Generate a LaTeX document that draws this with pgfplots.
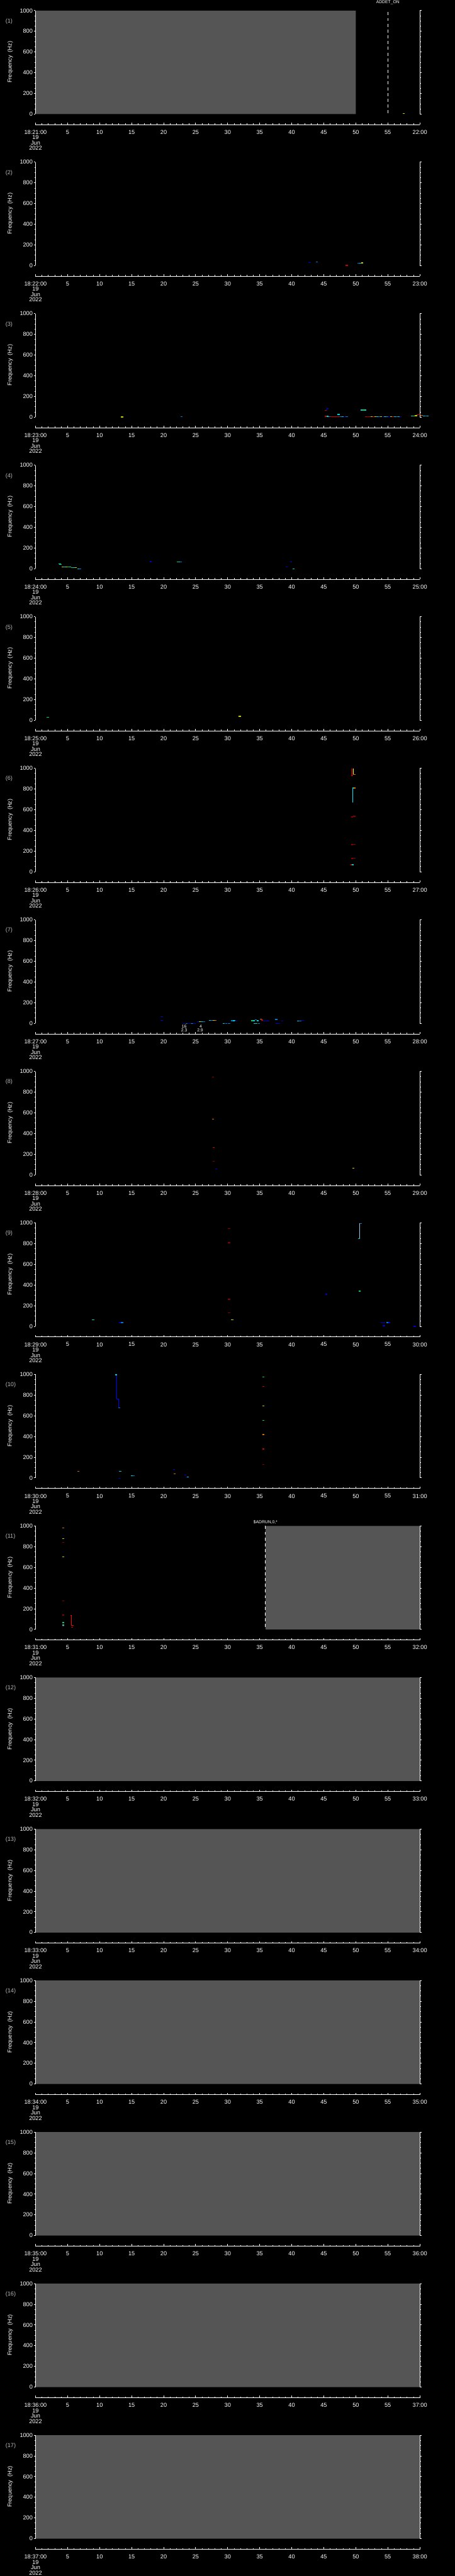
\documentclass[border=0pt]{standalone}
\usepackage{pgfplots}
\pgfplotsset{compat=1.18}
\usepackage{fontspec}
\setmainfont{Liberation Sans}
\definecolor{nodata}{RGB}{85,85,85}
\definecolor{plab}{RGB}{185,185,185}
\definecolor{cB}{RGB}{0,0,255}
\definecolor{cR}{RGB}{255,0,0}
\definecolor{cC}{RGB}{0,230,255}
\definecolor{cY}{RGB}{255,255,0}
\definecolor{cL}{RGB}{150,200,225}

\pgfplotsset{
 freqax/.style={
  scale only axis, width=432.5pt, height=116.5pt,
  xmin=0, xmax=60, ymin=0, ymax=1000,
  hide x axis, separate axis lines, axis on top, clip=false,
  axis line style={white, line width=0.6pt},
  ytick={0,200,...,1000}, minor y tick num=3,
  tick align=outside, major tick length=2pt, minor tick length=1.4pt,
  tick style={white, line width=0.6pt},
  yticklabel style={text=white, font=\fontsize{6.5}{7}\selectfont, inner sep=1pt},
  /pgf/number format/assume math mode=true,
  /pgf/number format/1000 sep={},
  colormap={blips}{rgb255=(0,0,255) rgb255=(0,150,255) rgb255=(0,255,255) rgb255=(0,255,120) rgb255=(255,255,0) rgb255=(255,140,0) rgb255=(255,0,0) rgb255=(170,0,0)},
  point meta min=0, point meta max=7,
 },
 blip/.style={scatter, only marks, mark=-, mark size=1.2pt, line width=1pt, point meta=explicit},
 timeax/.style={
  scale only axis, width=432.5pt, height=2pt,
  xmin=0, xmax=60, ymin=0, ymax=1,
  hide y axis, axis x line*=bottom,
  axis line style={white, line width=0.6pt},
  xtick={0,5,...,60}, minor x tick num=4,
  tick align=inside, major tick length=2.2pt, minor tick length=1.4pt,
  tick style={white, line width=0.6pt},
  xticklabel style={text=white, font=\fontsize{6.5}{6}\selectfont, align=center, inner sep=0pt, yshift=-6pt},
 },
}

\newcommand\panel[3]{%
 \pgfmathsetmacro\T{2901-(#1-1)*170.65}%
 \pgfmathsetmacro\B{\T-128.5}%
 \pgfmathsetmacro\L{\T-140.5}%
 \pgfmathsetmacro\M{\T-24}%
 \pgfmathsetmacro\F{\T-70}%
 \begin{axis}[timeax, at={(40pt,\L pt)}, xticklabels={{18:#2:00\\19\\Jun\\2022},5,10,15,20,25,30,35,40,45,50,55,{#3:00}}]
  \addplot[draw=none] coordinates {(0,0)(60,1)};
 \end{axis}
 \node[anchor=west, text=plab, font=\fontsize{6.5}{7}\selectfont, inner sep=0pt] at (6pt,\M pt) {(#1)};
 \node[rotate=90, text=white, font=\fontsize{6.5}{7}\selectfont] at (11.5pt,\F pt) {Frequency~~(Hz)};
}

\begin{document}
\begin{tikzpicture}
\fill[black] (0,0) rectangle (512pt,2901pt);
\useasboundingbox (0,0) rectangle (512pt,2901pt);

% ---------- panel 1
\panel{1}{21}{22}
\begin{axis}[freqax, at={(40pt,\B pt)}]
 \addplot[fill=nodata, draw=none] coordinates {(0,0)(50,0)(50,1000)(0,1000)(0,0)};
 \addplot[white, line width=0.6pt, dash pattern=on 3.5pt off 3pt] coordinates {(55,985)(55,0)};
 \addplot[blip] coordinates {(57.5,6)[4]};
 \node[text=white, font=\fontsize{4.8}{5}\selectfont] at (axis cs:55,1077) {ADDET\_ON};
\end{axis}

% ---------- panel 2
\panel{2}{22}{23}
\begin{axis}[freqax, at={(40pt,\B pt)}]
 \addplot[blip] coordinates {(42.8,30)[0] (43.9,37)[1] (48.6,2)[6] (50.4,24)[1] (50.7,24)[2] (51.0,26)[4]};
\end{axis}

% ---------- panel 3
\panel{3}{23}{24}
\begin{axis}[freqax, at={(40pt,\B pt)}]
 \addplot[blip] coordinates {(13.5,2)[4] (22.8,6)[1]
  (45.3,65)[6] (45.5,72)[0] (45.6,82)[0]
  (45.3,8)[6] (45.6,8)[2] (45.9,5)[1] (46.2,5)[6] (46.5,5)[6] (46.8,5)[6] (47.1,5)[6] (47.4,5)[6] (47.7,5)[1] (48.0,5)[2] (48.3,5)[0] (48.6,5)[1]
  (47.3,26)[2]
  (50.9,69)[2] (51.2,69)[3] (51.5,69)[2]
  (51.6,5)[6] (51.9,5)[7] (52.2,5)[6] (52.5,5)[4] (52.8,5)[6] (53.1,5)[4] (53.4,5)[2] (53.7,5)[1] (54.0,5)[4] (54.3,5)[0] (54.6,5)[2] (54.9,5)[1] (55.2,5)[0] (55.5,5)[4] (55.8,5)[6] (56.1,5)[2] (56.4,5)[1] (56.7,5)[2] (57.0,5)[0]
  (58.8,11)[2] (59.1,11)[3] (59.4,14)[4] (59.7,22)[6] (60.0,22)[6] (60.3,18)[5] (60.6,11)[2] (60.9,11)[1] (61.2,11)[2]};
\end{axis}

% ---------- panel 4
\panel{4}{24}{25}
\begin{axis}[freqax, at={(40pt,\B pt)}]
 \addplot[blip] coordinates {(3.8,47)[2] (3.9,40)[3]
  (4.2,15)[4] (4.5,15)[2] (4.8,17)[4] (5.1,17)[3] (5.4,15)[2] (5.7,10)[3] (6.0,9)[2] (6.3,9)[4]
  (6.7,0)[2] (7.0,0)[1] (18.0,69)[0] (22.2,64)[3] (22.5,64)[2] (22.7,64)[1]
  (39.2,15)[0] (39.9,64)[0] (40.3,0)[2]};
\end{axis}

% ---------- panel 5
\panel{5}{25}{26}
\begin{axis}[freqax, at={(40pt,\B pt)}]
 \addplot[blip] coordinates {(1.9,30)[3] (31.9,38)[4]};
\end{axis}

% ---------- panel 6
\panel{6}{26}{27}
\begin{axis}[freqax, at={(40pt,\B pt)}]
 \addplot[cR, line width=0.7pt] coordinates {(49.41,927)(49.41,999)};
 \addplot[cY, line width=0.7pt] coordinates {(49.6,999)(49.6,941)};
 \addplot[cC, line width=0.7pt] coordinates {(49.48,667)(49.48,806)};
 \addplot[blip] coordinates {(49.4,927)[6] (49.75,941)[5] (49.6,809)[2] (49.8,809)[5]
  (49.45,530)[7] (49.75,536)[7] (49.45,262)[7] (49.75,264)[7] (49.45,128)[7] (49.75,131)[7]
  (49.35,67)[6] (49.5,67)[2]};
\end{axis}

% ---------- panel 7
\panel{7}{27}{28}
\begin{axis}[freqax, at={(40pt,\B pt)}]
 \addplot[blip] coordinates {(19.7,63)[0] (19.7,27)[0]
  (23.2,-1)[0] (23.6,-1)[1] (24.0,-1)[0] (24.4,-1)[1] (24.8,-1)[0]
  (25.4,16)[0] (25.7,16)[4] (26.0,16)[2] (26.3,16)[1]
  (27.2,27)[2] (27.5,27)[1] (27.8,29)[4] (28.1,27)[5]
  (29.4,-1)[2] (29.8,-1)[1] (30.2,-1)[1]
  (30.7,24)[1] (31.0,24)[2] (31.3,20)[0]
  (33.8,24)[3] (34.1,24)[2] (34.4,34)[1] (34.7,24)[2]
  (34.2,-1)[2] (34.5,-1)[2] (34.9,-1)[1]
  (35.2,40)[5] (35.4,30)[6] (35.7,20)[0] (36.0,20)[0] (36.3,20)[0]
  (37.6,37)[1] (37.7,-1)[0] (38.0,-1)[0] (38.5,20)[0]
  (41.0,23)[2] (41.3,23)[1] (41.7,29)[0]};
 \node[text=white, font=\fontsize{4.8}{5}\selectfont] at (axis cs:23.2,-29) {16};
 \node[text=white, font=\fontsize{4.8}{5}\selectfont] at (axis cs:23.2,-69) {2.3};
 \node[text=white, font=\fontsize{4.8}{5}\selectfont] at (axis cs:25.8,-29) {4};
 \node[text=white, font=\fontsize{4.8}{5}\selectfont] at (axis cs:25.7,-69) {2.9};
\end{axis}

% ---------- panel 8
\panel{8}{28}{29}
\begin{axis}[freqax, at={(40pt,\B pt)}]
 \addplot[blip] coordinates {(27.7,944)[7] (27.7,537)[5] (27.8,266)[6] (27.8,131)[7] (28.2,58)[0] (49.6,64)[4]};
\end{axis}

% ---------- panel 9
\panel{9}{29}{30}
\begin{axis}[freqax, at={(40pt,\B pt)}]
 \addplot[cL, line width=0.5pt] coordinates {(50.6,847)(50.6,996)};
 \addplot[blip] coordinates {(30.2,946)[7] (30.2,809)[7] (30.2,262)[7] (30.2,131)[7] (30.7,62)[4]
  (9.0,62)[2] (13.2,37)[0] (13.5,37)[1] (45.4,311)[0] (50.6,341)[3] (50.5,847)[2] (50.8,992)[1]
  (54.1,32)[0] (54.4,32)[0] (54.9,36)[1] (55.2,36)[0] (54.4,6)[0] (59.2,0)[0]};
\end{axis}

% ---------- panel 10
\panel{10}{30}{31}
\begin{axis}[freqax, at={(40pt,\B pt)}]
 \addplot[cB, line width=0.7pt] coordinates {(12.7,996)(12.7,765)(13.0,765)(13.0,679)};
 \addplot[blip] coordinates {(6.7,64)[5] (12.6,996)[2] (13.1,679)[1] (13.2,64)[2] (13.1,-2)[0]
  (15.1,22)[2] (15.3,22)[1] (21.6,81)[0] (21.7,38)[5] (23.4,28)[0] (23.6,9)[0] (23.8,9)[2]
  (35.6,977)[3] (35.6,885)[6] (35.6,694)[4] (35.6,555)[3] (35.6,418)[5] (35.6,278)[6] (35.6,131)[7]};
\end{axis}

% ---------- panel 11
\panel{11}{31}{32}
\begin{axis}[freqax, at={(40pt,\B pt)}]
 \addplot[fill=nodata, draw=none] coordinates {(35.9,0)(60,0)(60,1000)(35.9,1000)(35.9,0)};
 \addplot[white, line width=0.6pt, dash pattern=on 3.5pt off 3pt] coordinates {(35.9,1000)(35.9,0)};
 \addplot[cR, line width=0.7pt] coordinates {(5.45,139)(5.57,139)(5.57,41)(5.9,41)};
 \addplot[blip] coordinates {(4.35,981)[5] (4.35,878)[4] (4.35,841)[7] (4.35,700)[4] (4.35,275)[7]
  (4.35,139)[7] (4.35,66)[3] (4.35,41)[2] (4.35,34)[6] (5.7,19)[6]};
 \node[text=white, font=\fontsize{4.8}{5}\selectfont] at (axis cs:35.9,1039) {\$ADRUN,0,*};
\end{axis}

% ---------- panels 12-17 (no data)
\panel{12}{32}{33}
\begin{axis}[freqax, at={(40pt,\B pt)}]
 \addplot[fill=nodata, draw=none] coordinates {(0,0)(60,0)(60,1000)(0,1000)(0,0)};
\end{axis}
\panel{13}{33}{34}
\begin{axis}[freqax, at={(40pt,\B pt)}]
 \addplot[fill=nodata, draw=none] coordinates {(0,0)(60,0)(60,1000)(0,1000)(0,0)};
\end{axis}
\panel{14}{34}{35}
\begin{axis}[freqax, at={(40pt,\B pt)}]
 \addplot[fill=nodata, draw=none] coordinates {(0,0)(60,0)(60,1000)(0,1000)(0,0)};
\end{axis}
\panel{15}{35}{36}
\begin{axis}[freqax, at={(40pt,\B pt)}]
 \addplot[fill=nodata, draw=none] coordinates {(0,0)(60,0)(60,1000)(0,1000)(0,0)};
\end{axis}
\panel{16}{36}{37}
\begin{axis}[freqax, at={(40pt,\B pt)}]
 \addplot[fill=nodata, draw=none] coordinates {(0,0)(60,0)(60,1000)(0,1000)(0,0)};
\end{axis}
\panel{17}{37}{38}
\begin{axis}[freqax, at={(40pt,\B pt)}]
 \addplot[fill=nodata, draw=none] coordinates {(0,0)(60,0)(60,1000)(0,1000)(0,0)};
\end{axis}
\end{tikzpicture}
\end{document}
